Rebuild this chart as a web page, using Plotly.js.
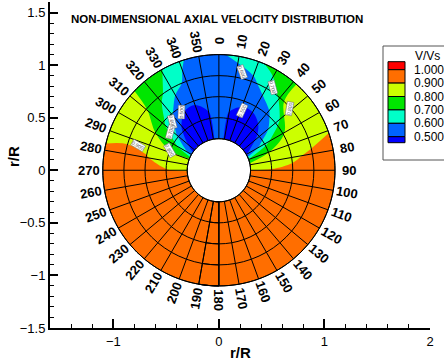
<!DOCTYPE html>
<html><head><meta charset="utf-8">
<script src="https://cdn.plot.ly/plotly-3.0.1.min.js"></script>
<style>html,body{margin:0;padding:0;background:#fff}#chart{width:444px;height:361px}</style>
</head><body><div id="chart"></div>
<script>
// ---- data ----
const angles = [0,10,20,30,40,50,60,70,80,90,100,110,120,130,140,150,160,170,180,190,200,210,220,230,240,250,260,270,280,290,300,310,320,330,340,350];
const radii = [0.3, 0.5, 0.7, 0.9, 1.1];
// V/Vs at each angle, one array per radius
const v_r03 = [0.55,0.49,0.44,0.43,0.43,0.44,0.48,0.705,0.84,0.902,0.95,0.95,0.95,0.95,0.95,0.95,0.95,0.95,0.95,0.95,0.95,0.95,0.95,0.95,0.95,0.95,0.95,0.89,0.87,0.84,0.56,0.44,0.43,0.43,0.44,0.49];
const v_r05 = [0.55,0.49,0.44,0.43,0.455,0.52,0.67,0.798,0.865,0.905,0.95,0.95,0.95,0.95,0.95,0.95,0.95,0.95,0.95,0.95,0.95,0.95,0.95,0.95,0.95,0.95,0.95,0.905,0.87,0.815,0.745,0.585,0.46,0.43,0.44,0.49];
const v_r07 = [0.54,0.52,0.525,0.53,0.57,0.665,0.795,0.85,0.885,0.92,0.95,0.95,0.95,0.95,0.95,0.95,0.95,0.95,0.95,0.95,0.95,0.95,0.95,0.95,0.95,0.95,0.95,0.92,0.905,0.88,0.805,0.73,0.615,0.525,0.515,0.52];
const v_r09 = [0.55,0.555,0.575,0.64,0.715,0.805,0.84,0.87,0.915,0.94,0.95,0.95,0.95,0.95,0.95,0.95,0.95,0.95,0.95,0.95,0.95,0.95,0.95,0.95,0.95,0.95,0.95,0.94,0.915,0.89,0.85,0.805,0.735,0.645,0.58,0.555];
const v_r11 = [0.57,0.602,0.665,0.735,0.79,0.83,0.86,0.895,0.93,0.95,0.95,0.95,0.95,0.95,0.95,0.95,0.95,0.95,0.95,0.95,0.95,0.95,0.95,0.95,0.95,0.95,0.95,0.95,0.93,0.897,0.865,0.835,0.795,0.71,0.615,0.575];
const angleLabels = angles.map(a => String(a));
const levelLabels = ['1.000','0.900','0.800','0.700','0.600','0.500'];
const bandColors = ['#0000ff','#0064ff','#00ffc8','#00e600','#ccff00','#ff6e00','#ff0000'];
// contour-line labels: text, radius, angle (deg), text rotation
const clText = ['0.600','0.500','0.700','0.800','0.500','0.600','0.700','0.800','0.900'];
const clR    = [0.96, 0.61, 0.94, 0.89, 0.66, 0.64, 0.59, 0.50, 0.80];
const clTh   = [13, 21, 33, 49, 327, 316, 308, 292.5, 287];
const clRot  = [70, -65, 75, -80, -88, 75, -75, 60, 30];

// ---- build carpet grid (seam placed at 180 deg, where the field is uniform;
//      one extra overlapping column closes the ring cleanly) ----
const rows = [v_r03, v_r05, v_r07, v_r09, v_r11];
const startIdx = angles.indexOf(180);
const order = [];
for (let k = 0; k < angles.length + 2; k++) order.push((startIdx + k) % angles.length);
const aVals = [];
order.forEach((idx, k) => {
  let a = angles[idx];
  while (k > 0 && a <= aVals[k - 1]) a += 360;
  aVals.push(a);
});
const X = radii.map(r => aVals.map(a => r * Math.sin(a * Math.PI / 180)));
const Y = radii.map(r => aVals.map(a => r * Math.cos(a * Math.PI / 180)));
const Z = rows.map(row => order.map(idx => row[idx]));
const cscale = bandColors.map((c, i) => [i / (bandColors.length - 1), c]);
const radialLines = aVals.slice(1, angles.length);

const FONT = 'Liberation Sans, Arial, Helvetica, sans-serif';

const gridAxis = (extra) => Object.assign({
  showticklabels: 'none', showgrid: true, gridcolor: '#000', gridwidth: 1,
  startlinecolor: '#000', endlinecolor: '#000',
  startlinewidth: 1, endlinewidth: 1, minorgridcount: 0,
  title: {text: ''}
}, extra);

const data = [
  {
    type: 'contourcarpet', carpet: 'grid', a: aVals, b: radii, z: Z,
    autocontour: false,
    contours: {start: 0.5, end: 1.0, size: 0.1, coloring: 'fill', showlines: false},
    line: {width: 0},
    colorscale: cscale,
    showscale: false
  },
  {
    type: 'carpet', carpet: 'grid', a: aVals, b: radii, x: X, y: Y,
    aaxis: gridAxis({tickmode: 'array', tickvals: radialLines, startline: true, endline: false, smoothing: 1}),
    baxis: gridAxis({tickmode: 'array', tickvals: radii, startline: true, endline: true, smoothing: 0})
  }
];

// pixel -> paper helpers for the legend box
const px = p => (p - 50) / 380;
const py = p => (328 - p) / 326;

const annotations = angles.map((a, i) => {
  let rot = a - 90;
  if (rot > 90) rot -= 180;
  const R = 1.235;
  return {
    x: R * Math.sin(a * Math.PI / 180), y: R * Math.cos(a * Math.PI / 180),
    xref: 'x', yref: 'y', text: '<b>' + angleLabels[i] + '</b>', textangle: rot,
    showarrow: false, xanchor: 'center', yanchor: 'middle',
    font: {family: FONT, size: 13, color: '#000'}
  };
});
clText.forEach((t, i) => {
  annotations.push({
    x: clR[i] * Math.sin(clTh[i] * Math.PI / 180), y: clR[i] * Math.cos(clTh[i] * Math.PI / 180),
    xref: 'x', yref: 'y', text: t, textangle: clRot[i], showarrow: false,
    xanchor: 'center', yanchor: 'middle', bgcolor: '#fff', bordercolor: '#666', borderwidth: 0.5, borderpad: 0,
    font: {family: FONT, size: 5, color: '#555'}
  });
});
annotations.push({
  x: px(427), y: py(56), xref: 'paper', yref: 'paper',
  text: 'V/Vs', showarrow: false, xanchor: 'center', yanchor: 'middle',
  font: {family: FONT, size: 12, color: '#000'}
});
annotations.push({
  x: 0.5, y: py(352), xref: 'paper', yref: 'paper',
  text: '<b>r/R</b>', showarrow: false, xanchor: 'center', yanchor: 'middle',
  font: {family: FONT, size: 15, color: '#000'}
});
annotations.push({
  x: px(13), y: py(157), xref: 'paper', yref: 'paper',
  text: '<b>r/R</b>', showarrow: false, xanchor: 'center', yanchor: 'middle', textangle: -90,
  font: {family: FONT, size: 15, color: '#000'}
});

// legend (contour level key)
const shapes = [{
  type: 'rect', xref: 'paper', yref: 'paper', x0: px(383), x1: px(460), y0: py(160), y1: py(46),
  line: {color: '#555', width: 1}, fillcolor: '#fff', layer: 'above'
}];
const swTop = 61.7, step = 13.4, endBand = 8;
const bandEdges = [swTop, swTop + endBand];
for (let k = 1; k <= 5; k++) bandEdges.push(swTop + endBand + k * step);
bandEdges.push(bandEdges[bandEdges.length - 1] + 6);
for (let k = 0; k < bandColors.length; k++) {
  shapes.push({
    type: 'rect', xref: 'paper', yref: 'paper', x0: px(388), x1: px(405),
    y0: py(bandEdges[k + 1]), y1: py(bandEdges[k]),
    line: {color: '#000', width: 1}, fillcolor: bandColors[bandColors.length - 1 - k], layer: 'above'
  });
}
levelLabels.forEach((t, k) => {
  annotations.push({
    x: px(412), y: py(bandEdges[k + 1]), xref: 'paper', yref: 'paper',
    text: t, showarrow: false, xanchor: 'left', yanchor: 'middle',
    font: {family: FONT, size: 12, color: '#000'}
  });
});

const layout = {
  width: 444, height: 361,
  margin: {l: 50, r: 14, t: 2, b: 33, autoexpand: false},
  paper_bgcolor: '#fff', plot_bgcolor: '#fff',
  showlegend: false,
  title: {
    text: '<b>NON-DIMENSIONAL AXIAL VELOCITY DISTRIBUTION</b>',
    xref: 'container', yref: 'container', x: 71 / 444, xanchor: 'left',
    y: 1 - 19 / 361, yanchor: 'middle',
    font: {family: FONT, size: 11.5, color: '#000'}
  },
  xaxis: {
    range: [-1.6, 2], tickmode: 'linear', tick0: 0, dtick: 1,
    ticks: 'inside', ticklen: 9, tickwidth: 2, tickcolor: '#000',
    minor: {dtick: 0.2, tick0: 0, ticks: 'inside', ticklen: 4, tickwidth: 1, tickcolor: '#000', showgrid: false},
    showline: true, linewidth: 2, linecolor: '#000', showgrid: false, zeroline: false,
    tickfont: {family: FONT, size: 13, color: '#000'}
  },
  yaxis: {
    range: [-1.5, 1.6], tickmode: 'linear', tick0: 0, dtick: 0.5,
    ticks: 'inside', ticklen: 8, tickwidth: 2, tickcolor: '#000',
    minor: {dtick: 0.1, tick0: 0, ticks: 'inside', ticklen: 4, tickwidth: 1, tickcolor: '#000', showgrid: false},
    showline: true, linewidth: 2, linecolor: '#000', showgrid: false, zeroline: false,
    tickfont: {family: FONT, size: 13, color: '#000'}
  },
  shapes: shapes,
  annotations: annotations
};

Plotly.newPlot('chart', data, layout, {displayModeBar: false, staticPlot: true});
</script>
</body></html>
